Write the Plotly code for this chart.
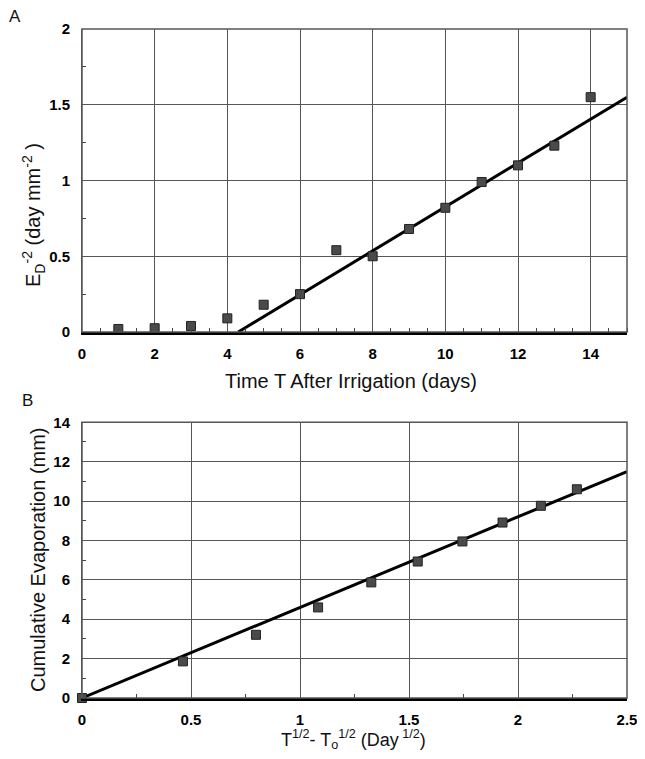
import plotly.graph_objects as go

# Panel A data
days = [1, 2, 3, 4, 5, 6, 7, 8, 9, 10, 11, 12, 13, 14]
ed_inv2 = [0.02, 0.025, 0.04, 0.09, 0.18, 0.25, 0.54, 0.50, 0.68, 0.82, 0.99, 1.10, 1.23, 1.55]
fitA_x = [4.3, 15]
fitA_y = [0.0, 1.55]

# Panel B data
sqrt_t = [0.0, 0.463, 0.798, 1.083, 1.327, 1.54, 1.745, 1.929, 2.105, 2.27]
cum_evap = [0.0, 1.86, 3.21, 4.6, 5.87, 6.93, 7.95, 8.91, 9.76, 10.6]
fitB_x = [0.0, 2.5]
fitB_y = [0.0, 11.5]

# page has an 8px body margin; figure sized to fit inside the viewport
W, H = 629, 743
L, R, T, B = 74, 10, 21, 53
pw = W - L - R
ph = H - T - B
bottomB = H - B  # figure y of panel B bottom


def py(fig_y):
    return (bottomB - fig_y) / ph


def px(fig_x):
    return (fig_x - L) / pw


domA = [py(324), 1.0]
domB = [0.0, py(414.3)]

fig = go.Figure()
mk = dict(symbol="square", size=9, color="#4a4a4a", line=dict(color="#222", width=1))
fig.add_trace(go.Scatter(x=fitA_x, y=fitA_y, mode="lines", line=dict(color="black", width=3),
                         xaxis="x", yaxis="y", showlegend=False, cliponaxis=False))
fig.add_trace(go.Scatter(x=days, y=ed_inv2, mode="markers", marker=mk,
                         xaxis="x", yaxis="y", showlegend=False, cliponaxis=False))
fig.add_trace(go.Scatter(x=fitB_x, y=fitB_y, mode="lines", line=dict(color="black", width=3),
                         xaxis="x2", yaxis="y2", showlegend=False, cliponaxis=False))
fig.add_trace(go.Scatter(x=sqrt_t, y=cum_evap, mode="markers", marker=mk,
                         xaxis="x2", yaxis="y2", showlegend=False, cliponaxis=False))

FONT = "Liberation Sans, Arial"
tickf = dict(family=FONT, size=15, color="black", weight="bold")
titf = dict(family=FONT, size=20, color="#111")
grid = dict(showgrid=True, gridcolor="#555", gridwidth=1, zeroline=False, automargin=False)
minor_style = dict(ticks="inside", ticklen=4, tickcolor="#444", showgrid=False)

fig.update_layout(
    width=W, height=H, margin=dict(l=L, r=R, t=T, b=B, autoexpand=False),
    paper_bgcolor="white", plot_bgcolor="white",
    xaxis=dict(domain=[0, 1], anchor="y", range=[0, 15], dtick=2, tick0=0, **grid,
               showline=True, linecolor="black", linewidth=3,
               ticks="", tickfont=tickf, ticklabelstandoff=6,
               minor=dict(dtick=0.5, tick0=0, **minor_style)),
    yaxis=dict(domain=domA, anchor="x", range=[0, 2], dtick=0.5, **grid,
               showline=True, linecolor="#555", linewidth=1,
               ticks="", tickfont=tickf, tickformat="~g", ticklabelstandoff=8,
               minor=dict(dtick=0.25, tick0=0, **minor_style)),
    xaxis2=dict(domain=[0, 1], anchor="y2", range=[0, 2.5], dtick=0.5, tick0=0, **grid,
                showline=True, linecolor="black", linewidth=3,
                ticks="", tickfont=tickf, ticklabelstandoff=6, tickformat="~g",
                ticklabeloverflow="allow",
                minor=dict(dtick=0.25, tick0=0, **minor_style)),
    yaxis2=dict(domain=domB, anchor="x2", range=[0, 14], dtick=2, **grid,
                showline=True, linecolor="#555", linewidth=1,
                ticks="", tickfont=tickf, ticklabelstandoff=8,
                minor=dict(dtick=1, tick0=0, **minor_style)),
    shapes=[
        dict(type="rect", xref="x domain", yref="y domain", x0=0, x1=1, y0=0, y1=1,
             line=dict(color="#555", width=1.5), layer="above"),
        dict(type="rect", xref="x2 domain", yref="y2 domain", x0=0, x1=1, y0=0, y1=1,
             line=dict(color="#555", width=1.5), layer="above"),
    ],
    annotations=[
        dict(text="A", xref="paper", yref="paper", x=px(7), y=py(9),
             showarrow=False, font=dict(family=FONT, size=17, color="#111"),
             xanchor="center", yanchor="middle"),
        dict(text="B", xref="paper", yref="paper", x=px(19), y=py(392),
             showarrow=False, font=dict(family=FONT, size=17, color="#111"),
             xanchor="center", yanchor="middle"),
        dict(text="Time T After Irrigation (days)", xref="paper", yref="paper",
             x=px(343), y=py(373), showarrow=False, font=titf,
             xanchor="center", yanchor="middle"),
        dict(text="E<sub>D</sub><sup>-2</sup> (day mm<sup>-2</sup> )", xref="paper", yref="paper",
             x=px(25), y=py(207), showarrow=False, font=titf, textangle=-90,
             xanchor="center", yanchor="middle"),
        dict(text="T<sup>1/2</sup>- T<sub>o</sub><sup>1/2</sup> (Day<sup> 1/2</sup>)",
             xref="paper", yref="paper", x=px(345), y=py(731), showarrow=False,
             font=dict(family=FONT, size=18, color="#111"),
             xanchor="center", yanchor="middle"),
        dict(text="Cumulative Evaporation (mm)", xref="paper", yref="paper",
             x=px(30), y=py(552), showarrow=False, font=titf, textangle=-90,
             xanchor="center", yanchor="middle"),
    ],
)

fig.write_html("out.html")
